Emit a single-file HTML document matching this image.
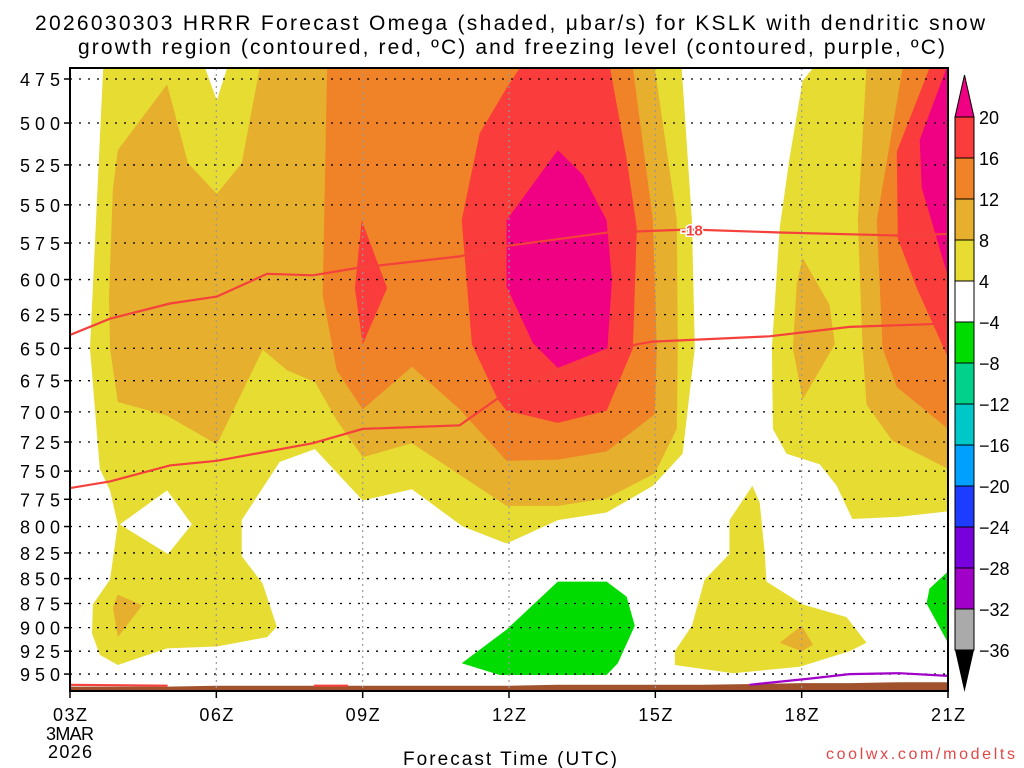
<!DOCTYPE html>
<html><head><meta charset="utf-8"><style>
body{margin:0;background:#fff;}
svg{display:block;font-family:"Liberation Sans","DejaVu Sans",sans-serif;}
</style></head><body>
<svg id="chart" width="1024" height="768" viewBox="0 0 1024 768" xmlns="http://www.w3.org/2000/svg">
<text x="35" y="30" font-size="21" textLength="950" lengthAdjust="spacing">2026030303 HRRR Forecast Omega (shaded, μbar/s) for KSLK with dendritic snow</text>
<text x="78" y="54" font-size="21" textLength="867" lengthAdjust="spacing">growth region (contoured, red, ºC) and freezing level (contoured, purple, ºC)</text>
<g id="fills"></g>
<g id="grid"></g>
<g id="lines"></g>
<g id="axes"></g>
<g id="cbar"></g>
<text x="403" y="765" font-size="19" textLength="214" lengthAdjust="spacing">Forecast Time (UTC)</text>
<text x="826" y="759" font-size="16" textLength="189" lengthAdjust="spacing" fill="#e04848">coolwx.com/modelts</text>
</svg>
<script>
// ---- data (hour, pressure hPa) ----
const yTicks=[475,500,525,550,575,600,625,650,675,700,725,750,775,800,825,850,875,900,925,950];
const xTickHours=[3,6,9,12,15,18,21];
const xTickLabels=["03Z","06Z","09Z","12Z","15Z","18Z","21Z"];
const cbLevels=["20","16","12","8","4","\u22124","\u22128","\u221212","\u221216","\u221220","\u221224","\u221228","\u221232","\u221236"];
const cbColors=["#fa3c3c","#f08228","#e6af2d","#e6dc32","#ffffff","#00dc00","#00d28c","#00c8c8","#00a0ff","#1e3cff","#7800dc","#a000c8","#aaaaaa"];
const yellowMain=[[3.68,469],[3.41,650],[3.61,748],[3.82,767],[3.98,798],[3.82,851],[3.47,876],[3.45,906],[3.61,929],[3.98,940],[4.99,922],[6.01,920],[7.04,910],[7.24,899],[6.95,855],[6.52,828],[6.52,794],[7.3,742],[8.02,731],[9,776],[10.01,766],[11.05,800],[11.95,816],[13,794],[14,787],[14.95,763],[15.56,735],[15.81,650],[15.75,560],[15.54,469],[6.22,469],[6.01,487],[5.77,469]];
const yellowRight=[[18.23,469],[18.02,476],[17.75,521],[17.55,565],[17.39,650],[17.41,714],[17.69,735],[18.37,744],[18.72,763],[19.04,793],[20.01,791],[21,786],[21,469]];
const yellowLow=[[16.99,763],[16.52,794],[16.52,826],[16.01,851],[15.75,898],[15.4,925],[15.4,940],[16.59,949],[17.96,942],[18.98,925],[19.33,916],[18.92,889],[18.02,876],[17.28,853],[17.24,824],[17.14,778]];
const holeWhite=[[4.02,798],[4.99,767],[5.5,798],[5.01,826]];
const lightOrangeMain=[[3.98,516],[4.99,478],[5.42,524],[6.01,543],[6.52,524],[6.89,469],[14.99,469],[15.44,560],[15.46,650],[15.44,714],[14.99,752],[14,774],[13,781],[11.95,781],[11.05,755],[10.01,726],[9,738],[8.47,707],[8.02,676],[7.45,667],[6.95,651],[6.01,727],[4.99,703],[3.98,692],[3.82,650],[3.8,612],[3.88,540]];
const lightOrangeBlob1=[[3.98,866],[4.48,877],[3.98,910],[3.88,879]];
const lightOrangeBlob2=[[18.02,585],[18.57,618],[18.68,647],[18.02,690],[17.82,650],[17.9,603]];
const lightOrangeBlob3=[[17.55,916],[18,898],[18.23,918],[18,925]];
const lightOrangeRight=[[19.33,469],[19.15,560],[19.25,650],[19.33,694],[19.86,724],[21,748],[21,469]];
const orangeMain=[[8.27,469],[8.18,611],[8.47,667],[9,698],[10.01,664],[10.99,698],[11.95,741],[13,740],[14,733],[14.99,702],[15.03,650],[14.95,560],[14.54,469]];
const orangeRight=[[20.07,469],[19.54,560],[19.66,650],[19.95,680],[21,714],[21,469]];
const redMain=[[12.22,469],[11.95,480],[11.4,506],[11.03,560],[11.24,647],[11.77,690],[11.95,699],[13,709],[14,699],[14.54,650],[14.62,565],[14.41,521],[14.07,469]];
const redDiamond=[[8.98,560],[9.5,606],[9,647],[8.84,606]];
const redRight=[[20.62,469],[19.95,517],[19.97,572],[20.36,606],[21,657],[21,469]];
const magentaMain=[[13,516],[13.51,531],[14,560],[14.11,600],[14.02,650],[13,665],[12.49,646],[11.95,605],[11.95,560]];
const magentaRight=[[20.97,469],[20.42,510],[20.46,539],[21,598],[21,469]];
const greenMain=[[11.03,938],[11.95,902],[13,853],[14,853],[14.41,868],[14.58,898],[14.23,938],[14,951],[11.81,951]];
const greenRight=[[21,843],[20.62,860],[20.56,875],[21,916]];
const dgzUpper=[[3,640],[3.82,628],[5.05,617],[6.01,612],[7.04,596],[7.98,597],[8.88,592],[10.99,584],[11.95,577],[14.02,568],[15.7,566],[17.55,568],[19.95,570],[21,569]];
const dgzLower=[[3,765],[3.82,759],[5.05,745],[6.01,741],[7.98,726],[9,714],[10.99,711],[11.77,689],[13.04,667],[14.62,647],[14.95,645],[17.34,641],[18.98,634],[20.62,632],[21,631]];
const freezeLine=[[16.93,962],[18.16,955],[18.98,950],[20,949],[21,952]];
const surfLine1=[[3,962],[5,963]];
const surfLine2=[[8,963],[8.7,963]];
const groundHours=[3,4,5,6,7,8,9,10,11,12,13,14,15,16,17,18,19,20,21];
const groundP=[964,964,964,963,963,963,963,963,963,963,962,962,962,962,961,960,960,959,959];

// ---- scales ----
const L=70,R=948,T=68,B=691;
function X(h){return L+(h-3)*(R-L)/18;}
function Y(p){return 79+858.5*Math.log(p/475);}
const NS="http://www.w3.org/2000/svg";
function mk(tag,parent,attrs){const e=document.createElementNS(NS,tag);for(const k in attrs)e.setAttribute(k,attrs[k]);parent.appendChild(e);return e;}
function pts(a){return a.map(d=>X(d[0]).toFixed(1)+","+Y(d[1]).toFixed(1)).join(" ");}
const fills=document.getElementById('fills');
const clip=mk('clipPath',document.getElementById('chart'),{id:'pc'});
mk('rect',clip,{x:L,y:T,width:R-L,height:B-T});
fills.setAttribute('clip-path','url(#pc)');
const layers=[[yellowMain,"#e6dc32","yellow-region"],[yellowRight,"#e6dc32","yellow-region"],[yellowLow,"#e6dc32","yellow-region"],[holeWhite,"#ffffff","white-hole"],
[lightOrangeMain,"#e6af2d","light-orange-region"],[lightOrangeBlob1,"#e6af2d","light-orange-region"],[lightOrangeBlob2,"#e6af2d","light-orange-region"],[lightOrangeBlob3,"#e6af2d","light-orange-region"],[lightOrangeRight,"#e6af2d","light-orange-region"],
[orangeMain,"#f08228","orange-region"],[orangeRight,"#f08228","orange-region"],
[redMain,"#fa3c3c","red-region"],[redDiamond,"#fa3c3c","red-region"],[redRight,"#fa3c3c","red-region"],
[magentaMain,"#f00082","magenta-region"],[magentaRight,"#f00082","magenta-region"],
[greenMain,"#00dc00","green-region"],[greenRight,"#00dc00","green-region"]];
layers.forEach(l=>{const e=mk('polygon',fills,{points:pts(l[0]),fill:l[1]});

});
// ground
const gp=groundHours.map((h,i)=>[h,groundP[i]]);
const gpoly=gp.concat([[21,980],[3,980]]);
const g=mk('polygon',fills,{points:pts(gpoly),fill:"#a0522d"});


// grid
const grid=document.getElementById('grid');
grid.setAttribute('clip-path','url(#pc)');
yTicks.forEach(p=>{const e=mk('line',grid,{x1:L,x2:R,y1:Y(p),y2:Y(p),stroke:"#000","stroke-width":1.3,"stroke-dasharray":"2,7"});

});
xTickHours.slice(1,-1).forEach(h=>{const e=mk('line',grid,{x1:X(h),x2:X(h),y1:T,y2:B,stroke:"#999","stroke-width":1.2,"stroke-dasharray":"2,4"});

});
// lines
const lines=document.getElementById('lines');
lines.setAttribute('clip-path','url(#pc)');
[[dgzUpper,"#f5413c","dgz-upper-contour"],[dgzLower,"#f5413c","dgz-lower-contour"],[freezeLine,"#a000c8","freezing-level-line"],[surfLine1,"#f5413c","surface-red-line"],[surfLine2,"#f5413c","surface-red-line"]].forEach(l=>{
const e=mk('polyline',lines,{points:pts(l[0]),fill:"none",stroke:l[1],"stroke-width":2.2});

});
const lt=mk('text',lines,{x:X(15.75),y:Y(566)+6,"font-size":15,"font-weight":"bold","text-anchor":"middle",fill:"#f5413c",stroke:"#fff","stroke-width":3,"paint-order":"stroke"});
lt.textContent="-18";


// axes
const axes=document.getElementById('axes');
const fr=mk('rect',axes,{x:L,y:T,width:R-L,height:B-T,fill:"none",stroke:"#000","stroke-width":2});


yTicks.forEach(p=>{mk('line',axes,{x1:L-6,x2:L,y1:Y(p),y2:Y(p),stroke:"#000","stroke-width":1.5});
const t=mk('text',axes,{x:20,y:Y(p)+7,"font-size":18,textLength:40,lengthAdjust:"spacing"});t.textContent=p;

});
xTickHours.forEach((h,i)=>{mk('line',axes,{x1:X(h),x2:X(h),y1:B,y2:B+7,stroke:"#000","stroke-width":1.5});
const t=mk('text',axes,{x:X(h)-17,y:B+30,"font-size":18,textLength:34,lengthAdjust:"spacing"});t.textContent=xTickLabels[i];

});
[["3MAR",740,48],["2026",758,44]].forEach(d=>{const t=mk('text',axes,{x:X(3)-d[2]/2,y:d[1],"font-size":18,textLength:d[2],lengthAdjust:"spacing"});t.textContent=d[0];

});
// colorbar
const cb=document.getElementById('cbar');
const cx=955,cw=19,c0=117,ch=41;
const tt=mk('polygon',cb,{points:`${cx},${c0} ${cx+cw},${c0} ${cx+cw/2},75`,fill:"#f00082",stroke:"#000","stroke-width":1});


cbColors.forEach((c,i)=>{const r=mk('rect',cb,{x:cx,y:c0+i*ch,width:cw,height:ch,fill:c,stroke:"#000","stroke-width":1});

});
const bt=mk('polygon',cb,{points:`${cx},${c0+13*ch} ${cx+cw},${c0+13*ch} ${cx+cw/2},692`,fill:"#000"});


cbLevels.forEach((s,i)=>{const t=mk('text',cb,{x:979,y:c0+i*ch+7,"font-size":18});t.textContent=s;

});
</script>
</body></html>
